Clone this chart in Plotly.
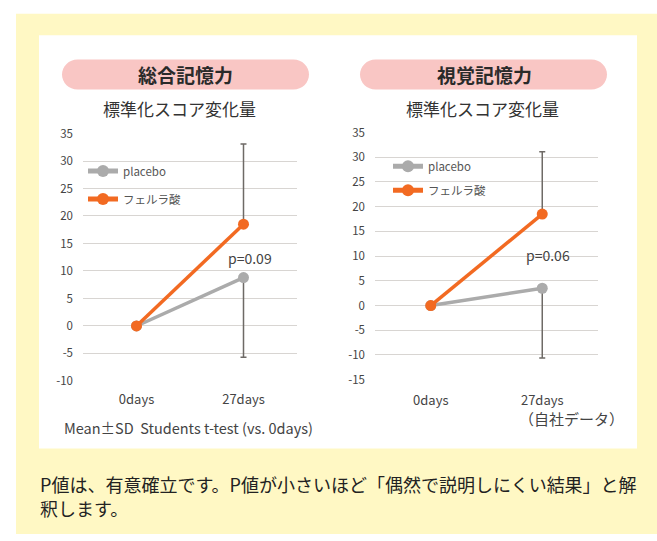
import plotly.graph_objects as go

W, H = 657, 541

days = ["0days", "27days"]

# 総合記憶力
left_placebo = [0, 8.8]
left_ferulic = [0, 18.5]
left_ferulic_sd_up = [0, 14.6]
left_placebo_sd_down = [0, 14.5]
left_yticks = [35, 30, 25, 20, 15, 10, 5, 0, -5, -10]
left_yticklabels = ["35", "30", "25", "20", "15", "10", "5", "0", "-5", "-10"]

# 視覚記憶力
right_placebo = [0, 3.5]
right_ferulic = [0, 18.5]
right_ferulic_sd_up = [0, 12.6]
right_placebo_sd_down = [0, 14.1]
right_yticks = [35, 30, 25, 20, 15, 10, 5, 0, -5, -10, -15]
right_yticklabels = ["35", "30", "25", "20", "15", "10", "5", "0", "-5", "-10", "-15"]

FONT = "Noto Sans CJK JP"
ORANGE = "#F26A22"
GRAY = "#ABABAB"
ERR = "#6E6A66"


def px(x):
    return x / W


def py(y):
    return 1 - y / H


fig = go.Figure()

zeros = [0, 0]

# left traces
fig.add_trace(go.Scatter(
    x=days, y=left_placebo, name="placebo", mode="lines+markers",
    line=dict(color=GRAY, width=3.5), marker=dict(size=11, color=GRAY),
    error_y=dict(type="data", symmetric=False, array=zeros, arrayminus=left_placebo_sd_down,
                 color=ERR, thickness=1.5, width=3),
    xaxis="x", yaxis="y", legend="legend", legendgroup="a"))
fig.add_trace(go.Scatter(
    x=days, y=left_ferulic, name="フェルラ酸", mode="lines+markers",
    line=dict(color=ORANGE, width=3.5), marker=dict(size=11, color=ORANGE),
    error_y=dict(type="data", symmetric=False, array=left_ferulic_sd_up, arrayminus=zeros,
                 color=ERR, thickness=1.5, width=3),
    xaxis="x", yaxis="y", legend="legend", legendgroup="b"))

# right traces
fig.add_trace(go.Scatter(
    x=days, y=right_placebo, name="placebo", mode="lines+markers",
    line=dict(color=GRAY, width=3.5), marker=dict(size=11, color=GRAY),
    error_y=dict(type="data", symmetric=False, array=zeros, arrayminus=right_placebo_sd_down,
                 color=ERR, thickness=1.5, width=3),
    xaxis="x2", yaxis="y2", legend="legend2", legendgroup="c"))
fig.add_trace(go.Scatter(
    x=days, y=right_ferulic, name="フェルラ酸", mode="lines+markers",
    line=dict(color=ORANGE, width=3.5), marker=dict(size=11, color=ORANGE),
    error_y=dict(type="data", symmetric=False, array=right_ferulic_sd_up, arrayminus=zeros,
                 color=ERR, thickness=1.5, width=3),
    xaxis="x2", yaxis="y2", legend="legend2", legendgroup="d"))

axis_common = dict(showline=False, zeroline=False, ticks="")
ytickfont = dict(family=FONT, size=11.5, color="#444444")
xtickfont = dict(family=FONT, size=13, color="#444444")

fig.update_layout(
    width=W, height=H,
    margin=dict(l=0, r=0, t=0, b=0),
    paper_bgcolor="white",
    plot_bgcolor="rgba(0,0,0,0)",
    font=dict(family=FONT, color="#333333"),
    xaxis=dict(domain=[px(83), px(297)], type="category", range=[-0.5, 1.5],
               showgrid=False, anchor="y", ticklabelstandoff=9, tickfont=xtickfont,
               **axis_common),
    yaxis=dict(domain=[py(383.3), py(128.3)], range=[-10, 35], tickvals=left_yticks,
               ticktext=left_yticklabels, tickfont=ytickfont,
               showgrid=True, gridcolor="#D8D5D2", gridwidth=1, anchor="x",
               ticklabelstandoff=9, **axis_common),
    xaxis2=dict(domain=[px(375), px(598)], type="category", range=[-0.5, 1.5],
                showgrid=False, anchor="y2", ticklabelstandoff=11, tickfont=xtickfont,
                **axis_common),
    yaxis2=dict(domain=[py(382), py(127.3)], range=[-15, 35], tickvals=right_yticks,
                ticktext=right_yticklabels, tickfont=ytickfont,
                showgrid=True, gridcolor="#D8D5D2", gridwidth=1, anchor="x2",
                ticklabelstandoff=9, **axis_common),
    legend=dict(x=px(83), y=py(152), xanchor="left", yanchor="top",
                bgcolor="rgba(0,0,0,0)", font=dict(family=FONT, size=11.5, color="#555555"),
                traceorder="grouped", tracegroupgap=9, itemsizing="constant"),
    legend2=dict(x=px(388), y=py(147), xanchor="left", yanchor="top",
                 bgcolor="rgba(0,0,0,0)", font=dict(family=FONT, size=11.5, color="#555555"),
                 traceorder="grouped", tracegroupgap=5, itemsizing="constant"),
)


def pill(x0, y0, x1, y1):
    r = (y1 - y0) / 2
    k = 0.5523 * r
    X = lambda v: f"{px(v):.5f}"
    Y = lambda v: f"{py(v):.5f}"
    path = (f"M {X(x0 + r)},{Y(y0)} L {X(x1 - r)},{Y(y0)} "
            f"C {X(x1 - r + k)},{Y(y0)} {X(x1)},{Y(y0 + r - k)} {X(x1)},{Y(y0 + r)} "
            f"C {X(x1)},{Y(y0 + r + k)} {X(x1 - r + k)},{Y(y1)} {X(x1 - r)},{Y(y1)} "
            f"L {X(x0 + r)},{Y(y1)} "
            f"C {X(x0 + r - k)},{Y(y1)} {X(x0)},{Y(y0 + r + k)} {X(x0)},{Y(y0 + r)} "
            f"C {X(x0)},{Y(y0 + r - k)} {X(x0 + r - k)},{Y(y0)} {X(x0 + r)},{Y(y0)} Z")
    return dict(type="path", xref="paper", yref="paper", path=path,
                fillcolor="#F9C6C4", line=dict(width=0), layer="below")


fig.update_layout(shapes=[
    dict(type="rect", xref="paper", yref="paper", x0=px(16), x1=px(657), y0=py(541), y1=py(5),
         fillcolor="#FFF8C4", line=dict(width=0), layer="below"),
    dict(type="rect", xref="paper", yref="paper", x0=px(39), x1=px(637), y0=py(453), y1=py(27),
         fillcolor="white", line=dict(width=0), layer="below"),
    pill(62, 52, 309, 83),
    pill(360, 52, 607, 83),
])


def ann(text, x, y, size, color="#333333", xanchor="center", bold=False):
    fig.add_annotation(text=f"<b>{text}</b>" if bold else text, x=px(x), y=py(y),
                       xref="paper", yref="paper", showarrow=False,
                       xanchor=xanchor, yanchor="middle",
                       font=dict(family=FONT, size=size, color=color))


ann("総合記憶力", 185, 68, 19, "#2A2A2A", bold=True)
ann("視覚記憶力", 484, 68, 19, "#2A2A2A", bold=True)
ann("標準化スコア変化量", 179, 103, 17, "#333333")
ann("標準化スコア変化量", 482, 103, 17, "#333333")
ann("p=0.09", 250, 257, 14, "#444444")
ann("p=0.06", 548, 254, 14, "#444444")
ann("Mean±SD  Students t-test (vs. 0days)", 62, 431, 14.5, "#444444", xanchor="left")
ann("（自社データ）", 626, 422, 15, "#444444", xanchor="right")
ann("P値は、有意確立です。P値が小さいほど「偶然で説明しにくい結果」と解", 38, 489, 18, "#222222",
    xanchor="left")
ann("釈します。", 38, 514, 18, "#222222", xanchor="left")

fig.write_html("out.html", config={"displayModeBar": False},
               post_script="document.body.style.margin='0';document.body.style.overflow='hidden';")
